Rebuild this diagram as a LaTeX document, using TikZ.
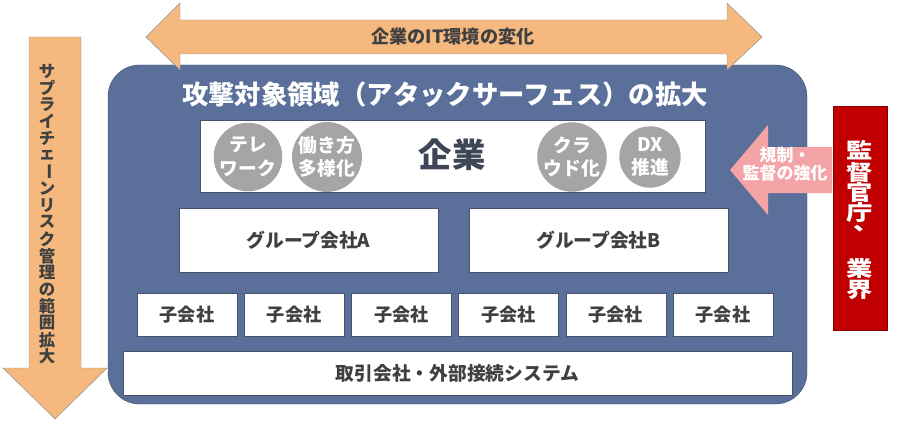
\documentclass[tikz,border=0pt]{standalone}
\usepackage{fontspec}
\setmainfont{Noto Sans CJK JP}
\usepackage{graphicx}
\usetikzlibrary{positioning}

\definecolor{orangefill}{HTML}{F5B97F}
\definecolor{arrowline}{HTML}{8C8C8C}
\definecolor{areablue}{HTML}{5A6F9A}
\definecolor{boxline}{HTML}{44546A}
\definecolor{pinkfill}{HTML}{F4A3A6}
\definecolor{govred}{HTML}{C00000}
\definecolor{circlegray}{HTML}{A5A5A5}
\definecolor{textdark}{HTML}{404040}
\definecolor{entdark}{HTML}{3E4655}

\newcommand{\chouon}{\rotatebox[origin=c]{-90}{ー}}
\newcommand{\wideglyph}[1]{\scalebox{1.25}[1]{#1}}

\begin{document}
\begin{tikzpicture}[x=0.03cm, y=-0.03cm, font=\bfseries,
		box/.style={draw=boxline, fill=white, thin, text=textdark, inner sep=0pt},
		bubble/.style={circle, fill=circlegray, text=white, minimum size=1.84cm, inner sep=0pt, align=center, font=\bfseries\fontsize{16}{20}\selectfont},
		subbox/.style={box, minimum width=3cm, minimum height=1.29cm, font=\bfseries\fontsize{15.5}{18}\selectfont},
		govchar/.style={text=white, inner sep=0pt, font=\bfseries\fontsize{18}{18}\selectfont}]
						\useasboundingbox (0,0) rectangle (900,422);
							% attack surface area
							\draw[fill=areablue, draw=boxline, rounded corners=0.95cm] (108,65) rectangle (807,404);
							\node[text=white, font=\bfseries\fontsize{22.5}{26}\selectfont] (title) at (445,94) {攻撃対象領域（アタックサーフェス）の拡大};
							% IT environment arrow
							\draw[fill=orangefill, draw=arrowline] (146,37) -- (180,3) -- (180,20) -- (727,20) -- (727,3) -- (762,37) -- (727,70) -- (727,54) -- (180,54) -- (180,70) -- cycle;
							\node[text=textdark, font=\bfseries\fontsize{15.5}{18}\selectfont] (itenv) at (453,37) {企業のIT環境の変化};
							% supply chain arrow
							\draw[fill=orangefill, draw=arrowline] (29,37) -- (81,37) -- (81,368) -- (107,368) -- (55,419) -- (3,368) -- (29,368) -- cycle;
							\foreach \c [count=\i from 0] in {サ,プ,ラ,イ,チ,ェ,\chouon,ン,リ,ス,ク,管,理,の,範,囲,拡,大}
								\node[text=textdark, inner sep=0pt, font=\bfseries\fontsize{14}{16}\selectfont] (sc\i) at (47,71+16.8*\i) {\c};
							% enterprise
							\node[box, minimum width=15.15cm, minimum height=2.16cm] (ent) at (452.5,156) {};
							\node[text=entdark, font=\bfseries\fontsize{28.5}{32}\selectfont] (entname) at (452,155) {企業};
							\node[bubble] (tele)  at (248,157) {テレ\\ワーク};
							\node[bubble] (work)  at (327,157) {働き方\\多様化};
							\node[bubble] (cloud) at (572,157) {クラ\\ウド化};
							\node[bubble] (dx)    at (650,157) {DX\\推進};
							% group companies
							\node[box, minimum width=7.77cm, minimum height=1.92cm, font=\bfseries\fontsize{16}{18}\selectfont] (grpA) at (308.5,240) {グループ会社A};
							\node[box, minimum width=7.77cm, minimum height=1.92cm, font=\bfseries\fontsize{16}{18}\selectfont] (grpB) at (598.5,240) {グループ会社B};
							\foreach \i in {0,...,5}
								\node[subbox] (sub\i) at (187+107.2*\i,314.5) {子会社};
							\node[box, minimum width=20.07cm, minimum height=1.32cm, font=\bfseries\fontsize{16}{18}\selectfont] (partner) at (457.5,373) {取引会社・外部接続システム};
							% regulation
							\draw[fill=pinkfill, draw=none] (730,170) -- (768,125) -- (768,147) -- (832,147) -- (832,193) -- (768,193) -- (768,215) -- cycle;
							\node[text=white, align=center, font=\bfseries\fontsize{14.5}{15.5}\selectfont] (reg) at (785,164) {規制・\\監督の強化};
							\node[fill=govred, draw=govred!70!black, minimum width=1.62cm, minimum height=6.72cm, inner sep=0pt] (gov) at (860,218) {};
							\foreach \c/\y [count=\i] in {監/150,督/172,官/193,庁/213,業/268,界/290}
								\node[govchar] (gc\i) at (860,\y) {\wideglyph{\c}};
							\node[govchar] (gccomma) at (867,229) {\wideglyph{、}};

					\end{tikzpicture}
\end{document}
